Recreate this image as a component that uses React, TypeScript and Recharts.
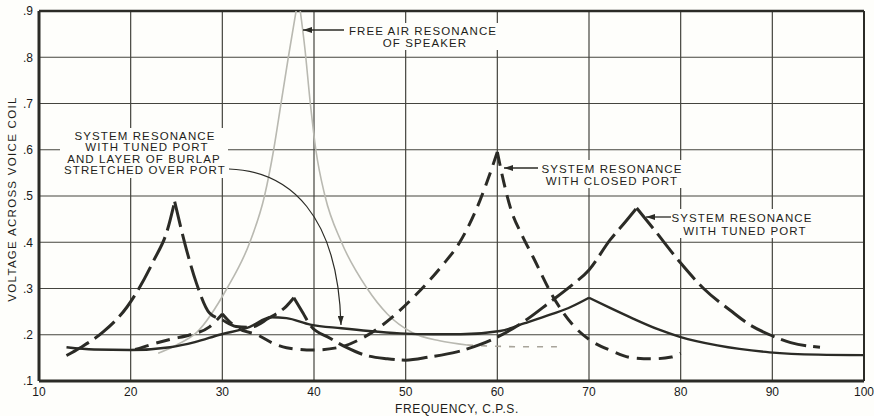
import { LineChart, Line, XAxis, YAxis, CartesianGrid, ReferenceLine } from "recharts";

type Pt = { x: number; y: number };

const INK = "#2b2b26";
const GRID = "#44443e";
const FAINT = "#b9b9b1";

const xTicks = [10, 20, 30, 40, 50, 60, 70, 80, 90, 100];
const yTicks = [0.1, 0.2, 0.3, 0.4, 0.5, 0.6, 0.7, 0.8, 0.9];

// frequency (c.p.s.), voltage across voice coil
const tunedPort: [number, number][] = [
  [13, 0.155], [14.5, 0.172], [17, 0.206], [19.6, 0.26], [22.5, 0.36], [24, 0.426], [24.8, 0.488],
  [26.1, 0.383], [27.2, 0.31], [28.6, 0.247], [30, 0.232], [31.5, 0.218], [33, 0.216],
  [35, 0.235], [37, 0.262], [37.8, 0.28],
  [38.8, 0.247], [39.6, 0.22], [41.7, 0.193], [43.6, 0.172], [45.4, 0.157], [48, 0.148],
  [50, 0.145], [52.6, 0.152], [55.6, 0.163], [58, 0.178], [60.3, 0.198], [63, 0.23],
  [65.7, 0.27], [68, 0.305], [70, 0.34], [72.3, 0.405], [74, 0.445], [75.2, 0.474],
  [77, 0.43], [80, 0.355], [82.5, 0.3], [85.4, 0.253], [87.5, 0.222], [89.7, 0.2],
  [92, 0.183], [95.2, 0.173],
];
const tunedPeaks = [24.8, 37.8, 75.2];

const closedPort: [number, number][] = [
  [20.5, 0.168], [22.1, 0.178], [24.3, 0.19], [26.5, 0.2], [28.6, 0.217], [30, 0.245],
  [30.6, 0.232], [31.6, 0.215], [33.8, 0.2], [35.5, 0.182], [37, 0.172], [39.9, 0.167],
  [42.8, 0.173], [45, 0.19], [47.2, 0.217], [50.8, 0.28], [54, 0.35], [55.9, 0.4],
  [58.1, 0.49], [60, 0.595],
  [60.7, 0.53], [61.5, 0.47], [62.7, 0.415], [63.9, 0.368], [66, 0.285], [68.2, 0.222],
  [70, 0.19], [72.5, 0.165], [74.8, 0.15], [77, 0.148], [79, 0.152], [80, 0.16],
];
const closedPeaks = [30, 60];

const burlap: [number, number][] = [
  [13, 0.173], [16, 0.168], [20, 0.167], [24.3, 0.173], [27, 0.184], [29.7, 0.2],
  [33, 0.217], [35.3, 0.238], [37, 0.236], [39.6, 0.222], [43, 0.214], [46, 0.208],
  [49.4, 0.203], [53, 0.201], [56, 0.201], [60.3, 0.208], [63, 0.225], [66, 0.245],
  [68, 0.26], [70, 0.28],
  [72.3, 0.258], [74.8, 0.235], [77.5, 0.212], [80, 0.195], [84, 0.177], [89.7, 0.162],
  [95, 0.157], [100, 0.156],
];
const burlapPeaks = [70];

const freeAir: [number, number][] = [
  [23, 0.16], [25, 0.178], [27.2, 0.205], [30.5, 0.3], [33, 0.4], [34.6, 0.5],
  [35.6, 0.6], [36.4, 0.7], [37.2, 0.8], [38.3, 0.93],
  [39, 0.82], [39.6, 0.7], [40.2, 0.6], [41.2, 0.5], [43, 0.4], [45.8, 0.3],
  [48, 0.245], [50.7, 0.205], [53.7, 0.187], [56.7, 0.178],
];
const freeAirPeaks = [38.3];
const freeAirTail: [number, number][] = [
  [56.7, 0.178], [60, 0.175], [63, 0.174], [66.5, 0.174],
];

function toSegments(points: [number, number][], peaks: number[]): Pt[][] {
  const segs: Pt[][] = [];
  let cur: Pt[] = [];
  points.forEach(([x, y]) => {
    cur.push({ x, y });
    if (peaks.includes(x)) {
      segs.push(cur);
      cur = [{ x, y }];
    }
  });
  if (cur.length > 1) segs.push(cur);
  return segs;
}

const labelStyle = {
  fontFamily: "'Liberation Sans', Arial, sans-serif",
  fontSize: 11.5,
  letterSpacing: 1.1,
  fill: "#1e1e1a",
};

export default function App() {
  const curve = (
    name: string,
    pts: [number, number][],
    peaks: number[],
    stroke: string,
    width: number,
    dash?: string
  ) =>
    toSegments(pts, peaks).map((seg, i) => (
      <Line
        key={name + i}
        data={seg}
        dataKey="y"
        type="monotone"
        stroke={stroke}
        strokeWidth={width}
        strokeDasharray={dash}
        dot={false}
        activeDot={false}
        isAnimationActive={false}
      />
    ));

  return (
    <div style={{ position: "absolute", left: 0, top: 0, width: 874, height: 416, background: "#fefefb" }}>
      <LineChart width={874} height={416} margin={{ top: 11, right: 10, bottom: 0, left: 0 }}>
        <CartesianGrid stroke={GRID} strokeWidth={1.2} />
        <XAxis
          dataKey="x"
          type="number"
          domain={[10, 100]}
          ticks={xTicks}
          allowDataOverflow
          height={35}
          tickSize={0}
          tickMargin={6}
          axisLine={{ stroke: INK, strokeWidth: 3 }}
          tick={{ fill: "#1a1a1a", fontSize: 12, fontFamily: "'Liberation Sans', Arial, sans-serif" }}
        />
        <YAxis
          type="number"
          domain={[0.1, 0.9]}
          ticks={yTicks}
          allowDataOverflow
          width={39}
          tickSize={0}
          tickMargin={6}
          tickFormatter={(v: number) => "." + Math.round(v * 10)}
          axisLine={{ stroke: INK, strokeWidth: 3 }}
          tick={{ fill: "#1a1a1a", fontSize: 12, fontFamily: "'Liberation Sans', Arial, sans-serif" }}
        />
        <ReferenceLine y={0.9} stroke={INK} strokeWidth={2.5} />
        <ReferenceLine x={100} stroke={INK} strokeWidth={2} />
        {curve("fa", freeAir, freeAirPeaks, FAINT, 1.6)}
        {curve("fat", freeAirTail, [], "#a8a49a", 1.6, "6 8")}
        {curve("bu", burlap, burlapPeaks, INK, 2.4)}
        {curve("cp", closedPort, closedPeaks, INK, 3, "14 8")}
        {curve("tp", tunedPort, tunedPeaks, INK, 3, "26 7")}
      </LineChart>

      <svg width={874} height={416} style={{ position: "absolute", left: 0, top: 0, pointerEvents: "none" }}>
        <defs>
          <marker id="ah" markerWidth="9" markerHeight="6" refX="9" refY="3" orient="auto" markerUnits="userSpaceOnUse">
            <path d="M0,0 L9,3 L0,6 z" fill={INK} />
          </marker>
        </defs>

        {/* free air label */}
        <rect x={344} y={23} width={158} height={27} fill="#fefefb" />
        <line x1={344} y1={30} x2={303} y2={30} stroke={INK} strokeWidth={1.3} markerEnd="url(#ah)" />
        <text x={423} y={35} textAnchor="middle" style={labelStyle}>FREE AIR RESONANCE</text>
        <text x={425} y={47} textAnchor="middle" style={labelStyle}>OF SPEAKER</text>

        {/* burlap label */}
        <rect x={60} y={128} width={168} height={50} fill="#fefefb" />
        <text x={145} y={140} textAnchor="middle" style={labelStyle}>SYSTEM RESONANCE</text>
        <text x={147} y={151} textAnchor="middle" style={labelStyle}>WITH TUNED PORT</text>
        <text x={144} y={163} textAnchor="middle" style={labelStyle}>AND LAYER OF BURLAP</text>
        <text x={145} y={174} textAnchor="middle" style={labelStyle}>STRETCHED OVER PORT</text>
        <path d="M229,169 C290,171 338,215 341,325" fill="none" stroke={INK} strokeWidth={1.2} markerEnd="url(#ah)" />

        {/* closed port label */}
        <rect x={538} y={160} width={150} height={28} fill="#fefefb" />
        <line x1={538} y1={168} x2={504} y2={168} stroke={INK} strokeWidth={1.3} markerEnd="url(#ah)" />
        <text x={612} y={173} textAnchor="middle" style={labelStyle}>SYSTEM RESONANCE</text>
        <text x={612} y={185} textAnchor="middle" style={labelStyle}>WITH CLOSED PORT</text>

        {/* tuned port label */}
        <rect x={670} y={209} width={146} height={29} fill="#fefefb" />
        <line x1={671} y1={217} x2={646} y2={217} stroke={INK} strokeWidth={1.3} markerEnd="url(#ah)" />
        <text x={742} y={222} textAnchor="middle" style={labelStyle}>SYSTEM RESONANCE</text>
        <text x={745} y={235} textAnchor="middle" style={labelStyle}>WITH TUNED PORT</text>

        {/* axis titles */}
        <text x={457} y={413} textAnchor="middle" style={{ ...labelStyle, fontSize: 12, letterSpacing: 0.6 }}>
          FREQUENCY, C.P.S.
        </text>
        <text
          x={0}
          y={0}
          textAnchor="middle"
          transform="translate(16,199) rotate(-90)"
          style={{ ...labelStyle, letterSpacing: 1.3 }}
        >
          VOLTAGE ACROSS VOICE COIL
        </text>
      </svg>
    </div>
  );
}
